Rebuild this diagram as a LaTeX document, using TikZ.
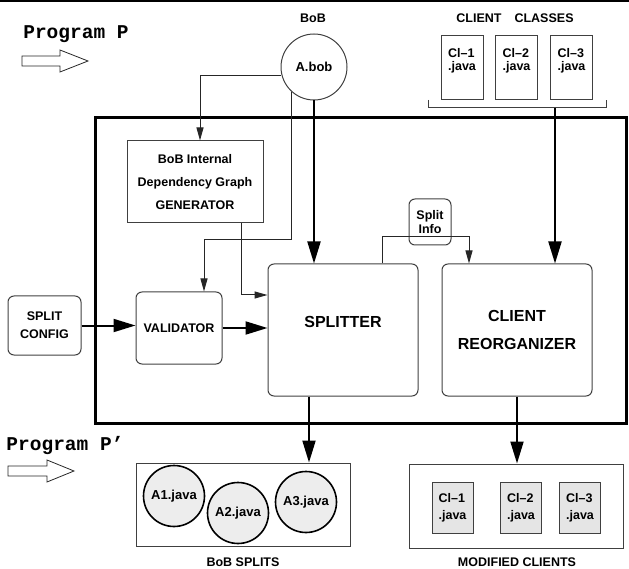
\documentclass[tikz,border=0pt]{standalone}
\usepackage{fontspec}
\setmainfont{Liberation Sans}
\newfontfamily\progfont{Liberation Mono}
\usetikzlibrary{arrows.meta}
\tikzset{
  txt/.style={font=\fontsize{12.5}{15}\selectfont\bfseries, inner sep=0pt, align=center},
  blk/.style={draw=black!75, line width=1pt, inner sep=0pt},
  rblk/.style={blk, rounded corners=6pt},
  fat/.style={line width=2pt, -{Triangle[length=22pt,width=13pt]}},
  lnk/.style={line width=1pt, draw=black!85, -{Triangle[length=13pt,width=7pt]}},
  prog/.style={font=\progfont\bfseries\fontsize{19.5}{20}\selectfont, inner sep=0pt},
  hollow/.style={draw=black!85, line width=0.8pt}
}

\begin{document}
\begin{tikzpicture}[x=1pt,y=-1pt]
\useasboundingbox (0,0) rectangle (629,569);
\draw[line width=1.5pt] (0,1) -- (629,1);

% program P
\node[prog] (progp) at (76,34) {Program P};
\draw[hollow] (22,56) -- (60,56) -- (60,50) -- (88,61) -- (60,72) -- (60,66) -- (22,66) -- cycle;

% BoB input
\node[txt] (boblbl) at (313,18) {BoB};
\node[blk, circle, minimum size=66pt, txt, font=\fontsize{13}{15}\selectfont\bfseries] (abob) at (314,67) {A.bob};

% client classes
\node[txt] (clilbl) at (515,18) {CLIENT\hspace{13pt}CLASSES};
\foreach \i/\x in {1/462,2/516.5,3/571.5}{
  \node[blk, minimum width=42pt, minimum height=64pt] (cli\i) at (\x,68) {};
  \node[txt, align=left, font=\fontsize{12.5}{13}\selectfont\bfseries] (clitxt\i) at (\x,61) {Cl--\i\\.java};
}
\draw[line width=1pt, draw=black!75] (428,100) |- (606,108) -- (606,100);
\coordinate (brk) at (555,108);

% the tool
\draw[line width=3pt] (95,118) rectangle (626.5,423);
\node[blk, minimum width=136pt, minimum height=82pt, txt, font=\fontsize{12.5}{23}\selectfont\bfseries] (gen) at (195,182)
  {BoB Internal\\Dependency Graph\\GENERATOR};
\node[rblk, minimum width=73pt, minimum height=59pt, txt, font=\fontsize{12.5}{18}\selectfont\bfseries] (splitcfg) at (44.5,325.5) {SPLIT\\CONFIG};
\node[rblk, minimum width=86pt, minimum height=72pt, txt] (valid) at (179,328) {VALIDATOR};
\node[rblk, minimum width=150pt, minimum height=132pt] (split) at (343,330) {};
\node[txt, font=\fontsize{16}{20}\selectfont\bfseries] (splittxt) at ([yshift=8pt]split.center) {SPLITTER};
\node[rblk, minimum width=150pt, minimum height=132pt, txt, font=\fontsize{16}{28}\selectfont\bfseries] (clre) at (517,330) {CLIENT\\REORGANIZER};
\node[rblk, minimum width=42pt, minimum height=46pt, txt, font=\fontsize{12.5}{14.5}\selectfont\bfseries] (sinfo) at (430,222) {Split\\Info};

% connectors
\draw[lnk] (abob.194) -| ([xshift=5pt]gen.north);
\coordinate (vbend) at (204,240);
\draw[lnk] (abob.228) |- (vbend) -- (vbend |- valid.north);
\draw[fat] (abob.south) -- (abob.south |- split.north);
\draw[fat] (brk) -- (brk |- clre.north);
\coordinate (gbend) at (241,295);
\draw[lnk] (gbend |- gen.south) -- (gbend) -- (gbend -| split.west);
\draw[fat] (splitcfg.east) -- (splitcfg.east -| valid.west);
\draw[fat] (valid.east) -- (valid.east -| split.west);
\coordinate (sia) at (382,237);
\coordinate (sib) at (469,237);
\draw[lnk] (sia |- split.north) -- (sia) -- (sib) -- (sib |- clre.north);

% program P'
\node[prog] (progq) at (65,445) {Program P’};
\draw[hollow] (8,466) -- (47,466) -- (47,460) -- (74,471) -- (47,482) -- (47,476) -- (8,476) -- cycle;

% outputs
\node[blk, minimum width=214pt, minimum height=83pt] (splits) at (243,504.5) {};
\foreach \i/\x/\y in {1/174/496,2/238/513,3/306/502}
  \node[circle, draw, line width=1.6pt, fill=black!7, minimum size=61pt, txt, font=\fontsize{13}{15}\selectfont\bfseries] (a\i) at (\x,\y) {A\i.java};
\node[txt] (splitslbl) at (243,562) {BoB SPLITS};

\node[blk, minimum width=214pt, minimum height=84pt] (mods) at (516,506) {};
\foreach \i/\x in {1/452.5,2/521,3/580}
  \node[blk, fill=black!10, minimum width=41pt, minimum height=51pt, txt, align=left, font=\fontsize{12.5}{17}\selectfont\bfseries] (mod\i) at (\x,507.5) {Cl--\i\\.java};
\node[txt] (modslbl) at (517,562) {MODIFIED CLIENTS};

\coordinate (outa) at (309,430);
\draw[fat] (outa |- split.south) -- (outa |- splits.north);
\draw[fat] (clre.south) -- (clre.south |- mods.north);
\end{tikzpicture}
\end{document}
